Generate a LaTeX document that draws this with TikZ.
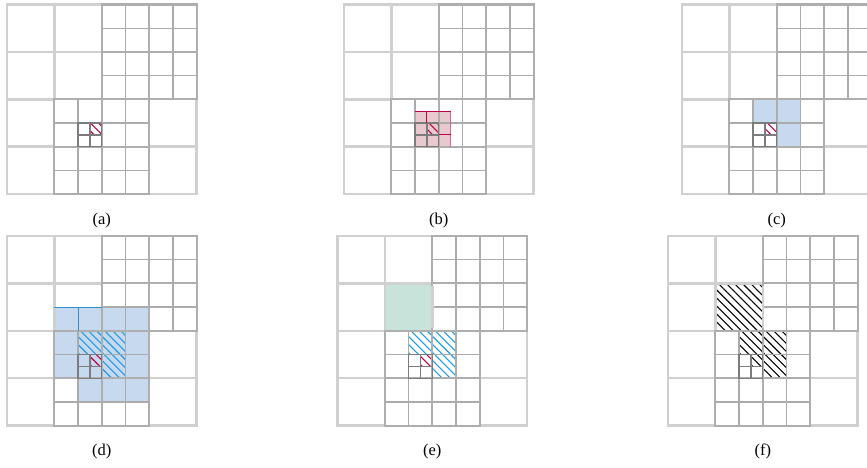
\documentclass[tikz,border=0pt]{standalone}
\usepackage{fontspec}
\setmainfont{Liberation Serif}
\usetikzlibrary{patterns.meta}
\definecolor{gridlight}{HTML}{D0D0D0}
\definecolor{griddark}{HTML}{AEAEAE}
\definecolor{gridfine}{HTML}{ABABAB}
\definecolor{gridleaf}{HTML}{7C7C7C}
\definecolor{crimson}{HTML}{C00048}
\definecolor{crimsonfill}{HTML}{E8C9CD}
\definecolor{crimsonedge}{HTML}{D56A90}
\definecolor{skyfill}{HTML}{C6D9EE}
\definecolor{skyline}{HTML}{1E9BE6}
\definecolor{skyedge}{HTML}{2E8FD0}
\definecolor{mintfill}{HTML}{C8E3DA}
\begin{document}
\begin{tikzpicture}[x=47.4pt,y=-47.4pt]

%styles
\tikzset{
    lightline/.style={gridlight,line width=2.5pt},
    darkline/.style={griddark,line width=2.1pt},
    fineline/.style={gridfine,line width=1.35pt},
    leafline/.style={gridleaf,line width=1.35pt},
    caption/.style={font=\fontsize{16.5}{18}\selectfont},
    hatchred/.style={pattern={Lines[angle=-45,distance=5.7pt,line width=1.1pt]},pattern color=crimson},
    hatchsky/.style={pattern={Lines[angle=-45,distance=5.7pt,line width=1.1pt]},pattern color=skyline},
    hatchblack/.style={pattern={Lines[angle=-45,distance=5.7pt,line width=1.1pt]},pattern color=black},
    quadgrid/.pic={
        \draw[lightline] (2,0) -- (0,0) -- (0,4) -- (1,4);
        \draw[lightline] (3,4) -- (4,4) -- (4,2);
        \draw[lightline] (1,0) --++(0,2);
        \draw[lightline] (0,1) --++(2,0);
        \draw[lightline] (0,2) --++(1,0);
        \draw[lightline] (0,3) --++(1,0);
        \draw[lightline] (3,3) --++(1,0);
        %top right block
        \draw[fineline] (2.5,0) --++(0,2);
        \draw[fineline] (3.5,0) --++(0,2);
        \draw[fineline] (2,0.5) --++(2,0);
        \draw[fineline] (2,1.5) --++(2,0);
        \draw[darkline] (2,0) rectangle (4,2);
        \draw[darkline] (3,0) --++(0,2);
        \draw[darkline] (2,1) --++(2,0);
        %bottom left block
        \draw[fineline] (1.5,2) --++(0,2);
        \draw[fineline] (2.5,2) --++(0,2);
        \draw[fineline] (1,2.5) --++(2,0);
        \draw[fineline] (1,3.5) --++(2,0);
        \draw[darkline] (1,2) rectangle (3,4);
        \draw[darkline] (2,2) --++(0,2);
        \draw[darkline] (1,3) --++(2,0);
        %finest cells
        \draw[leafline] (1.5,2.5) rectangle (2,3);
        \draw[leafline] (1.75,2.5) --++(0,0.5);
        \draw[leafline] (1.5,2.75) --++(0.5,0);
    }
}
\path[clip,use as bounding box] (0pt,0pt) rectangle (867pt,-468pt);

%(a)
\begin{scope}[shift={(7pt,-4.5pt)}]
\path[hatchred] (1.75,2.5) rectangle (2,2.75);
\pic {quadgrid};
\node[caption] (capa) at (2,4.55) {(a)};
\end{scope}

%(b)
\begin{scope}[shift={(344pt,-4.5pt)}]
\fill[crimsonfill] (1.5,2.25) rectangle (2.25,3);
\path[hatchred] (1.75,2.5) rectangle (2,2.75);
\pic {quadgrid};
\draw[crimsonedge,line width=1.3pt] (2.25,2.25) --++(0,0.75);
\draw[crimson,line width=1pt] (1.5,2.25) --++(0.75,0);
\draw[crimson,line width=1pt] (1.75,2.25) --++(0,0.25);
\draw[crimson,line width=1pt] (2,2.75) --++(0.25,0);
\node[caption] (capb) at (2,4.55) {(b)};
\end{scope}

%(c)
\begin{scope}[shift={(682pt,-4.5pt)}]
\fill[skyfill] (1.5,2) rectangle (2.5,2.5);
\fill[skyfill] (2,2.5) rectangle (2.5,3);
\path[hatchred] (1.75,2.5) rectangle (2,2.75);
\pic {quadgrid};
\node[caption] (capc) at (2,4.55) {(c)};
\end{scope}

%(d)
\begin{scope}[shift={(7pt,-236pt)}]
\fill[skyfill] (1,1.5) rectangle (3,3);
\fill[skyfill] (1.5,3) rectangle (3,3.5);
\path[hatchsky] (1.5,2) rectangle (2.5,2.5);
\path[hatchsky] (2,2.5) rectangle (2.5,3);
\path[hatchred] (1.75,2.5) rectangle (2,2.75);
\pic {quadgrid};
\draw[skyedge,line width=1.2pt] (1,1.5) --++(1,0);
\draw[skyedge,line width=1.2pt] (1.5,1.5) --++(0,0.5);
\node[caption] (capd) at (2,4.55) {(d)};
\end{scope}

%(e)
\begin{scope}[shift={(337.5pt,-236pt)}]
\fill[mintfill] (1,1) rectangle (2,2);
\path[hatchsky] (1.5,2) rectangle (2.5,2.5);
\path[hatchsky] (2,2.5) rectangle (2.5,3);
\path[hatchred] (1.75,2.5) rectangle (2,2.75);
\pic {quadgrid};
\draw[lightline] (2,1.05) --++(0,0.9);
\node[caption] (cape) at (2,4.55) {(e)};
\end{scope}

%(f)
\begin{scope}[shift={(668pt,-236pt)}]
\path[hatchblack] (1,1) rectangle (2,2);
\path[hatchblack] (1.5,2) rectangle (2.5,2.5);
\path[hatchblack] (2,2.5) rectangle (2.5,3);
\path[hatchblack] (1.75,2.5) rectangle (2,2.75);
\pic {quadgrid};
\draw[lightline] (2,1.05) --++(0,0.9);
\node[caption] (capf) at (2,4.55) {(f)};
\end{scope}

\end{tikzpicture}
\end{document}
